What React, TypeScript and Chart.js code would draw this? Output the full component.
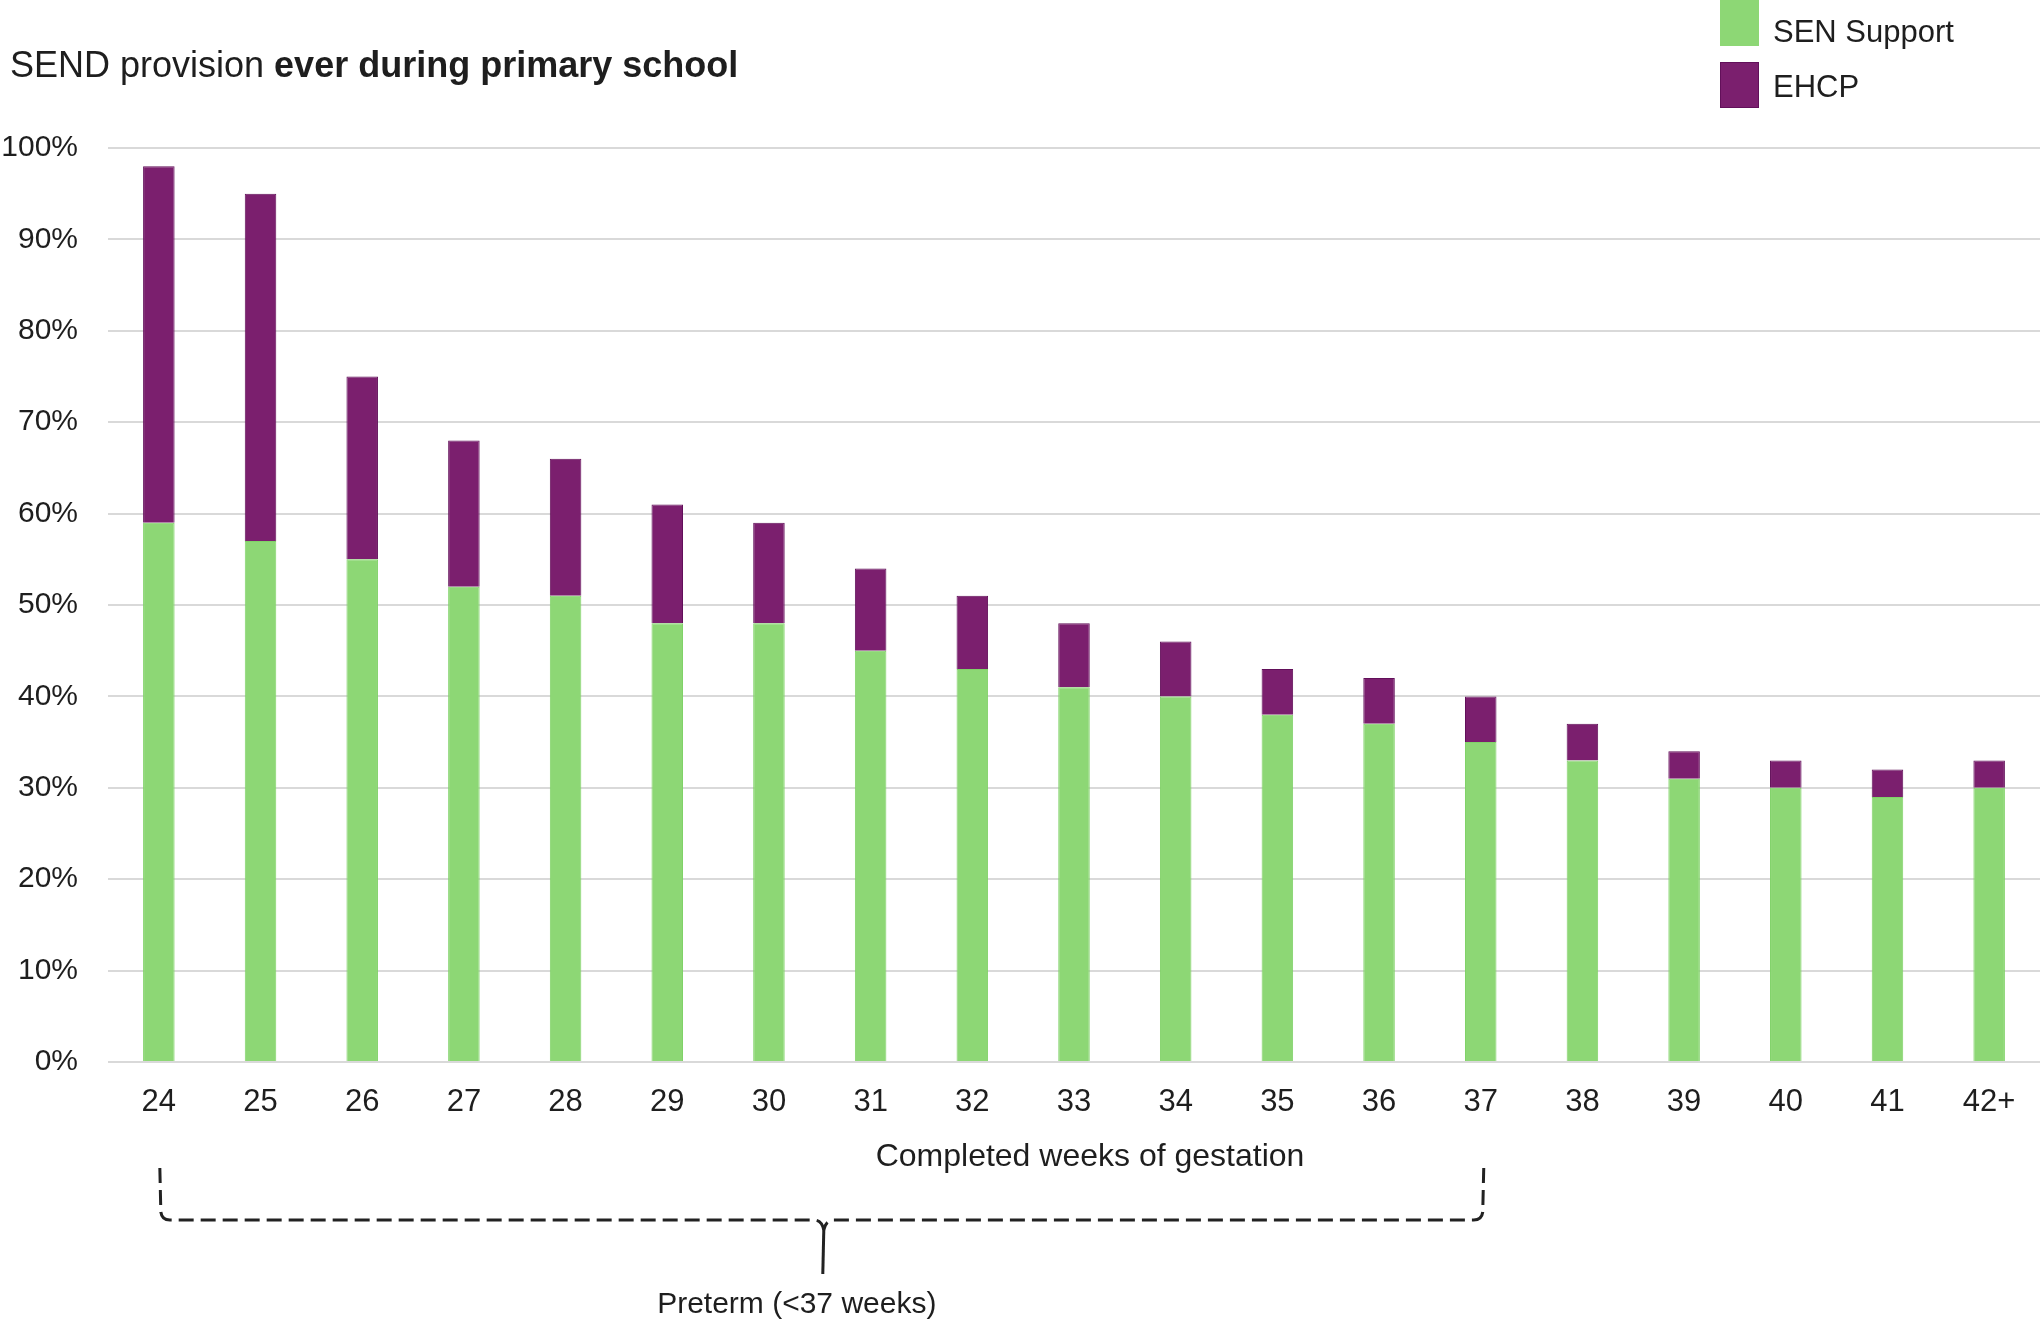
import { useEffect, useRef } from "react";
import Chart from "chart.js/auto";

// Completed weeks of gestation
const weeks = ["24", "25", "26", "27", "28", "29", "30", "31", "32", "33", "34", "35", "36", "37", "38", "39", "40", "41", "42+"];

// % of pupils
const senSupport = [59, 57, 55, 52, 51, 48, 48, 45, 43, 41, 40, 38, 37, 35, 33, 31, 30, 29, 30];
const ehcp = [39, 38, 20, 16, 15, 13, 11, 9, 8, 7, 6, 5, 5, 5, 4, 3, 3, 3, 3];

const yTicks = [0, 10, 20, 30, 40, 50, 60, 70, 80, 90, 100];

const FONT = '"Liberation Sans", Arial, sans-serif';
const GREEN = "#8dd775";
const PURPLE = "#7b1f6e";
const TEXT = "#1e1e1e";

// title, legend, axis title and the preterm bracket
const annotations = {
  id: "annotations",
  afterDraw(chart: any) {
    const { ctx, chartArea } = chart;
    const x = chart.scales.x;
    ctx.save();
    ctx.fillStyle = TEXT;
    ctx.textBaseline = "middle";

    // title
    ctx.textAlign = "left";
    ctx.font = `36px ${FONT}`;
    const first = "SEND provision ";
    ctx.fillText(first, 10, 67);
    const w = ctx.measureText(first).width;
    ctx.font = `bold 36px ${FONT}`;
    ctx.fillText("ever during primary school", 10 + w, 67);

    // legend
    ctx.fillStyle = GREEN;
    ctx.fillRect(1720, 0, 39, 46);
    ctx.fillStyle = PURPLE;
    ctx.fillRect(1720, 62, 39, 46);
    ctx.strokeStyle = "#62105a";
    ctx.lineWidth = 1;
    ctx.strokeRect(1720.5, 62.5, 38, 45);
    ctx.fillStyle = TEXT;
    ctx.font = `31px ${FONT}`;
    ctx.fillText("SEN Support", 1773, 33);
    ctx.fillText("EHCP", 1773, 88);

    // x axis title
    ctx.textAlign = "center";
    ctx.font = `32px ${FONT}`;
    ctx.fillText("Completed weeks of gestation", (chartArea.left + chartArea.right) / 2 + 16, 1157);

    // bracket over 24..37 weeks
    const left = x.getPixelForValue(0) + 1;
    const right = x.getPixelForValue(13) + 3;
    const mid = (left + right) / 2 + 2;
    const top = 1168;
    const base = 1220;
    ctx.strokeStyle = "#222";
    ctx.lineWidth = 3;
    ctx.setLineDash([15, 7]);
    ctx.beginPath();
    ctx.moveTo(left, top);
    ctx.lineTo(left + 1, base - 8);
    ctx.quadraticCurveTo(left + 2, base, left + 10, base);
    ctx.lineTo(mid - 10, base);
    ctx.quadraticCurveTo(mid - 2, base, mid, base + 10);
    ctx.stroke();
    ctx.beginPath();
    ctx.moveTo(right, top);
    ctx.lineTo(right - 1, base - 8);
    ctx.quadraticCurveTo(right - 2, base, right - 10, base);
    ctx.lineTo(mid + 10, base);
    ctx.quadraticCurveTo(mid + 2, base, mid, base + 10);
    ctx.stroke();
    ctx.setLineDash([]);
    ctx.beginPath();
    ctx.moveTo(mid, base + 10);
    ctx.lineTo(mid - 1, 1274);
    ctx.stroke();

    ctx.font = `30px ${FONT}`;
    ctx.fillText("Preterm (<37 weeks)", mid - 27, 1305);
    ctx.restore();
  },
};

export default function App() {
  const canvasRef = useRef<HTMLCanvasElement>(null);

  useEffect(() => {
    if (!canvasRef.current) return;
    const chart = new Chart(canvasRef.current, {
      type: "bar",
      data: {
        labels: weeks,
        datasets: [
          {
            label: "SEN Support",
            data: senSupport,
            backgroundColor: GREEN,
            borderColor: "#80d268",
            borderWidth: 1,
            barPercentage: 0.31,
            categoryPercentage: 1,
          },
          {
            label: "EHCP",
            data: ehcp,
            backgroundColor: PURPLE,
            borderColor: "#62105a",
            borderWidth: 1,
            barPercentage: 0.31,
            categoryPercentage: 1,
          },
        ],
      },
      options: {
        animation: false,
        responsive: true,
        maintainAspectRatio: false,
        layout: { padding: { top: 148, left: 0, right: 0, bottom: 0 } },
        plugins: {
          legend: { display: false },
          title: { display: false },
          tooltip: { enabled: false },
        },
        scales: {
          x: {
            stacked: true,
            grid: { display: false, drawTicks: false },
            border: { display: false },
            ticks: {
              padding: 22,
              color: TEXT,
              font: { family: FONT, size: 31 },
            },
            afterFit: (scale: any) => {
              scale.height = 258;
            },
          },
          y: {
            stacked: true,
            min: 0,
            max: 100,
            afterBuildTicks: (scale: any) => {
              scale.ticks = yTicks.map((v) => ({ value: v }));
            },
            grid: { color: "#d9d9d9", lineWidth: 2, drawTicks: false },
            border: { display: false },
            ticks: {
              padding: 30,
              color: TEXT,
              font: { family: FONT, size: 30 },
              callback: (v: any) => v + "%",
            },
            afterFit: (scale: any) => {
              scale.width = 108;
            },
          },
        },
      },
      plugins: [annotations],
    });
    return () => chart.destroy();
  }, []);

  return (
    <div style={{ position: "absolute", left: 0, top: 0, width: 2040, height: 1320, background: "#fff" }}>
      <canvas ref={canvasRef}></canvas>
    </div>
  );
}
